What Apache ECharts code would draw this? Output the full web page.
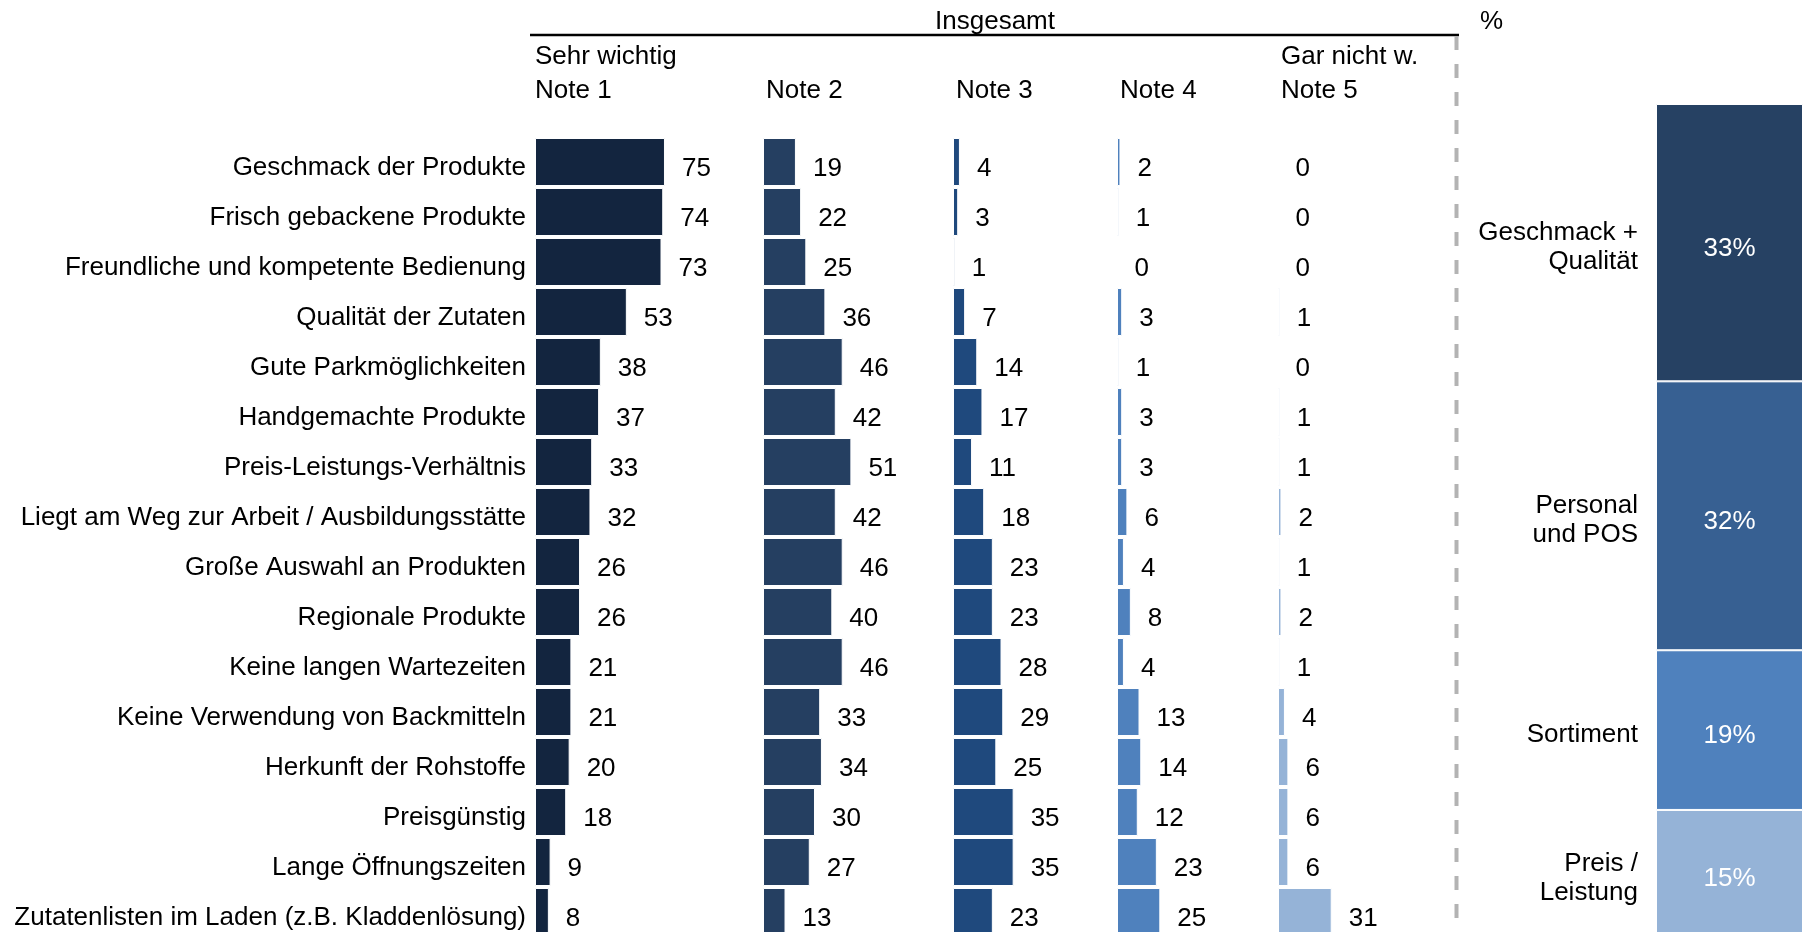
<!DOCTYPE html>
<html>
<head>
<meta charset="utf-8">
<title>Wichtigkeit der Kriterien</title>
<script src="https://cdn.jsdelivr.net/npm/echarts@6/dist/echarts.min.js"></script>
<style>
  html, body { margin: 0; padding: 0; background: #fff; }
  #chart { width: 1803px; height: 932px; }
</style>
</head>
<body>
<div id="chart"></div>
<script>
// Kriterien, von oben nach unten
const categories = [
  'Geschmack der Produkte',
  'Frisch gebackene Produkte',
  'Freundliche und kompetente Bedienung',
  'Qualität der Zutaten',
  'Gute Parkmöglichkeiten',
  'Handgemachte Produkte',
  'Preis-Leistungs-Verhältnis',
  'Liegt am Weg zur Arbeit / Ausbildungsstätte',
  'Große Auswahl an Produkten',
  'Regionale Produkte',
  'Keine langen Wartezeiten',
  'Keine Verwendung von Backmitteln',
  'Herkunft der Rohstoffe',
  'Preisgünstig',
  'Lange Öffnungszeiten',
  'Zutatenlisten im Laden (z.B. Kladdenlösung)'
]
const note1 = [75, 74, 73, 53, 38, 37, 33, 32, 26, 26, 21, 21, 20, 18, 9, 8]
const note2 = [19, 22, 25, 36, 46, 42, 51, 42, 46, 40, 46, 33, 34, 30, 27, 13]
const note3 = [4, 3, 1, 7, 14, 17, 11, 18, 23, 23, 28, 29, 25, 35, 35, 23]
const note4 = [2, 1, 0, 3, 1, 3, 3, 6, 4, 8, 4, 13, 14, 12, 23, 25]
const note5 = [0, 0, 0, 1, 0, 1, 1, 2, 1, 2, 1, 4, 6, 6, 6, 31]

const noteNames = ['Note 1', 'Note 2', 'Note 3', 'Note 4', 'Note 5']
const noteHints = ['Sehr wichtig', '', '', '', 'Gar nicht w.']
const headerTitle = 'Insgesamt'

// rechte Säule (von unten nach oben gestapelt)
const groupNames = ['Preis /\nLeistung', 'Sortiment', 'Personal\nund POS', 'Geschmack +\nQualität']
const groupShares = [15, 19, 32, 33]
const groupUnit = '%'

// Layout / Stil
const FONT = '"Liberation Sans", Arial, sans-serif'
const FS = 26
const noteColors = ['#13253f', '#253f61', '#1f497d', '#4f81bd', '#95b3d7']
const groupColors = ['#95b3d7', '#4f81bd', '#376092', '#264163']
const colLeft = [535, 763, 953, 1117, 1278]
const colWidth = 173.3 // 100 Punkte
const rowsTop = 137
const rowsHeight = 800

const noteData = [note1, note2, note3, note4, note5]

const chart = echarts.init(document.getElementById('chart'))

const grids = []
const xAxes = []
const yAxes = []
const series = []

noteData.forEach((values, i) => {
  grids.push({
    left: colLeft[i], top: rowsTop, width: colWidth, height: rowsHeight,
    outerBoundsMode: 'none'
  })
  xAxes.push({ gridIndex: i, type: 'value', min: 0, max: 100, show: false })
  yAxes.push({
    gridIndex: i,
    type: 'category',
    data: categories,
    inverse: true,
    show: i === 0,
    axisLine: { show: false },
    axisTick: { show: false },
    axisLabel: {
      interval: 0,
      margin: 9,
      // Text etwas unter der Balkenmitte, wie im Original
      verticalAlign: 'top',
      lineHeight: 12,
      color: '#000',
      fontSize: FS,
      fontFamily: FONT
    }
  })
  series.push({
    name: noteNames[i],
    type: 'bar',
    xAxisIndex: i,
    yAxisIndex: i,
    data: values,
    barCategoryGap: '4%',
    itemStyle: { color: noteColors[i], borderColor: '#fff', borderWidth: 1 },
    label: {
      show: true,
      position: 'right',
      distance: 17,
      offset: [0, 7],
      color: '#000',
      fontSize: FS,
      fontFamily: FONT
    }
  })
})

// rechte gestapelte Säule
const gi = grids.length
grids.push({ left: 1656, top: 104, width: 147, height: 832, outerBoundsMode: 'none' })
xAxes.push({ gridIndex: gi, type: 'category', data: [groupUnit], show: false })
yAxes.push({ gridIndex: gi, type: 'value', min: 0, max: 99, show: false })

groupShares.forEach((v, k) => {
  series.push({
    name: groupNames[k],
    type: 'bar',
    xAxisIndex: gi,
    yAxisIndex: gi,
    stack: 'anteil',
    barWidth: '100%',
    barGap: '-100%',
    data: [v],
    itemStyle: { color: groupColors[k], borderColor: '#fff', borderWidth: 1 },
    label: {
      show: true,
      position: 'inside',
      formatter: '{c}%',
      offset: [0, 6],
      color: '#fff',
      fontSize: FS,
      fontFamily: FONT
    }
  })
})
// Beschriftung links neben den Segmenten
groupShares.forEach((v, k) => {
  series.push({
    name: groupNames[k] + ' ',
    type: 'bar',
    xAxisIndex: gi,
    yAxisIndex: gi,
    stack: 'namen',
    barWidth: '100%',
    data: [v],
    itemStyle: { color: 'rgba(0,0,0,0)' },
    label: {
      show: true,
      position: 'left',
      distance: 18,
      offset: [0, 5],
      formatter: groupNames[k],
      color: '#000',
      fontSize: FS,
      lineHeight: 29,
      fontFamily: FONT
    }
  })
})

// Kopfzeile
const textStyle = (text, x, y, align) => ({
  type: 'text',
  style: {
    text: text,
    x: x,
    y: y,
    fill: '#000',
    fontSize: FS,
    fontFamily: FONT,
    textAlign: align || 'left',
    textVerticalAlign: 'middle'
  }
})
const graphic = [
  textStyle(headerTitle, 995, 22, 'center'),
  textStyle(groupUnit, 1480, 22, 'left'),
  {
    type: 'line',
    shape: { x1: 530, y1: 35, x2: 1459, y2: 35 },
    style: { stroke: '#000', lineWidth: 2.5 }
  },
  {
    type: 'line',
    shape: { x1: 1456.5, y1: 36, x2: 1456.5, y2: 932 },
    style: { stroke: '#b3b3b3', lineWidth: 4, lineDash: [14, 14] }
  }
]
noteNames.forEach((n, i) => {
  const x = colLeft[i] + (i === 0 ? 0 : 3)
  graphic.push(textStyle(n, x, 91))
  if (noteHints[i]) graphic.push(textStyle(noteHints[i], x, 57))
})

chart.setOption({
  animation: false,
  textStyle: { fontFamily: FONT },
  grid: grids,
  xAxis: xAxes,
  yAxis: yAxes,
  series: series,
  graphic: graphic
})
</script>
</body>
</html>
